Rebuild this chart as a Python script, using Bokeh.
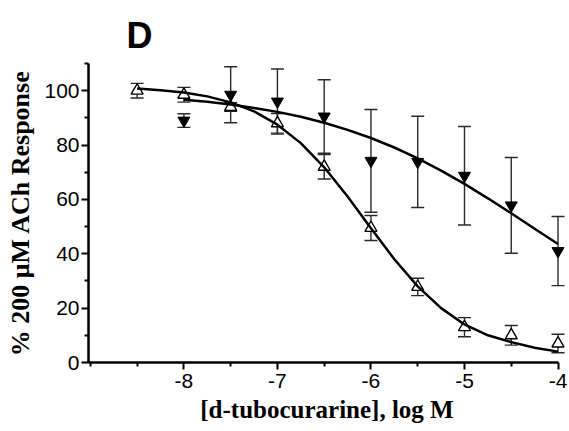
from bokeh.plotting import figure
from bokeh.models import ColumnDataSource, Whisker, TeeHead, FixedTicker, Range1d
from bokeh.embed import file_html
from bokeh.resources import INLINE

# ---- data ----
ctrl_logc = [-8.5, -8.0, -7.5, -7.0, -6.5, -6.0, -5.5, -5.0, -4.5, -4.0]
ctrl_mean = [100.0, 98.5, 94.0, 88.0, 72.0, 49.5, 27.8, 13.0, 10.0, 7.0]
ctrl_sem = [2.7, 2.7, 1.6, 3.6, 4.5, 4.6, 3.2, 3.5, 3.6, 3.4]

drug_logc = [-8.0, -7.5, -7.0, -6.5, -6.0, -5.5, -5.0, -4.5, -4.0]
drug_mean = [89.0, 98.5, 96.0, 90.5, 74.2, 73.8, 68.7, 57.8, 41.0]
drug_sem = [2.5, 10.3, 12.0, 13.5, 18.9, 16.8, 18.1, 17.6, 12.7]

ctrl_fit_x = [-8.5, -8.25, -8.0, -7.75, -7.5, -7.25, -7.0, -6.75, -6.5, -6.25,
              -6.0, -5.75, -5.5, -5.25, -5.0, -4.75, -4.5, -4.25, -4.0]
ctrl_fit_y = [100.8, 100.2, 99.3, 97.9, 95.7, 92.4, 87.5, 80.7, 71.8, 61.1,
              49.4, 38.0, 28.0, 20.0, 14.0, 10.0, 7.5, 5.4, 4.0]

drug_fit_x = [-8.0, -7.75, -7.5, -7.25, -7.0, -6.75, -6.5, -6.25, -6.0,
              -5.75, -5.5, -5.25, -5.0, -4.75, -4.5, -4.25, -4.0]
drug_fit_y = [96.7, 95.9, 94.9, 93.6, 92.2, 90.4, 88.2, 85.6, 82.6,
              79.1, 75.1, 70.6, 65.7, 60.4, 54.9, 49.2, 43.6]

x_ticks = [-8, -7, -6, -5, -4]
x_minor = [-9, -8.5, -7.5, -6.5, -5.5, -4.5]
y_ticks = [0, 20, 40, 60, 80, 100]
y_minor = [10, 30, 50, 70, 90, 110]

panel_letter = "D"
x_label = "[d-tubocurarine], log M"
y_label = "% 200 \u03bcM ACh Response"

# ---- figure ----
p = figure(width=569, height=431, output_backend="svg", toolbar_location=None,
           x_range=Range1d(-9.02, -3.92), y_range=Range1d(0, 110),
           min_border_left=88, min_border_right=4, min_border_top=63,
           min_border_bottom=69)
p.xgrid.visible = False
p.ygrid.visible = False
p.outline_line_color = None
p.background_fill_color = "white"
p.border_fill_color = "white"

p.title.text = panel_letter
p.title.text_font = "Liberation Sans"
p.title.text_font_style = "bold"
p.title.text_font_size = "36px"
p.title.text_color = "black"
p.title.align = "left"
p.title.offset = 38
p.title.standoff = 15

for ax in (p.xaxis[0], p.yaxis[0]):
    ax.axis_line_width = 2.5
    ax.axis_line_color = "black"
    ax.major_tick_line_width = 2
    ax.minor_tick_line_width = 2
    ax.major_tick_line_color = "black"
    ax.minor_tick_line_color = "black"
    ax.major_tick_out = 7
    ax.major_tick_in = 0
    ax.minor_tick_out = 4
    ax.minor_tick_in = 0
    ax.major_label_text_font = "Liberation Sans"
    ax.major_label_text_font_size = "21px"
    ax.major_label_text_color = "black"

p.xaxis.ticker = FixedTicker(ticks=x_ticks, minor_ticks=x_minor)
p.xaxis.bounds = (-9.02, -4)
p.xaxis.major_label_standoff = 4
p.xaxis.major_label_overrides = {t: str(t) for t in x_ticks}
p.xaxis.axis_label = x_label
p.xaxis.axis_label_text_font = "Liberation Serif"
p.xaxis.axis_label_text_font_style = "bold"
p.xaxis.axis_label_text_font_size = "25px"
p.xaxis.axis_label_text_color = "black"
p.xaxis.axis_label_standoff = 5

p.yaxis.ticker = FixedTicker(ticks=y_ticks, minor_ticks=y_minor)
p.yaxis.major_label_standoff = 2
p.yaxis.axis_label = y_label
p.yaxis.axis_label_text_font = "Liberation Serif"
p.yaxis.axis_label_text_font_style = "bold"
p.yaxis.axis_label_text_font_size = "26px"
p.yaxis.axis_label_text_color = "black"
p.yaxis.axis_label_standoff = 6

# ---- error bars ----
ctrl_src = ColumnDataSource(dict(
    x=ctrl_logc, y=ctrl_mean,
    upper=[m + s for m, s in zip(ctrl_mean, ctrl_sem)],
    lower=[m - s for m, s in zip(ctrl_mean, ctrl_sem)]))
drug_src = ColumnDataSource(dict(
    x=drug_logc, y=drug_mean,
    upper=[m + s for m, s in zip(drug_mean, drug_sem)],
    lower=[m - s for m, s in zip(drug_mean, drug_sem)]))

err_col = "#2a2a2a"
for src in (drug_src, ctrl_src):
    w = Whisker(base="x", upper="upper", lower="lower", source=src,
                line_color=err_col, line_width=1.4,
                upper_head=TeeHead(size=13, line_color=err_col, line_width=1.4),
                lower_head=TeeHead(size=13, line_color=err_col, line_width=1.4))
    p.add_layout(w)

# ---- markers and fitted curves ----
p.scatter("x", "y", source=ctrl_src, marker="triangle", size=12,
          fill_color="white", line_color="black", line_width=1.4)
p.line(ctrl_fit_x, ctrl_fit_y, line_color="black", line_width=2.5)
p.line(drug_fit_x, drug_fit_y, line_color="black", line_width=2.5)
p.scatter("x", "y", source=drug_src, marker="inverted_triangle", size=12,
          fill_color="black", line_color="black", line_width=1)

open("out.html", "w").write(file_html(p, INLINE))
